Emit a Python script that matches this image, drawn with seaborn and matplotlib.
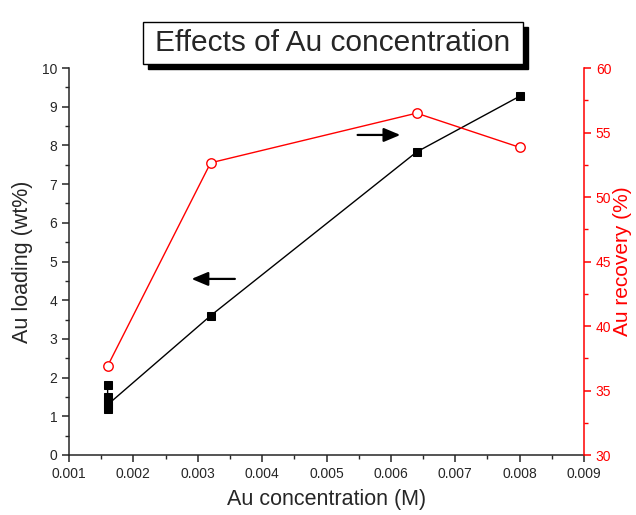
import matplotlib
matplotlib.use("Agg")
import matplotlib.pyplot as plt
import seaborn as sns
import pandas as pd
from matplotlib.patches import Rectangle
from matplotlib.ticker import MultipleLocator

sns.set_style("ticks")
plt.rcParams['font.family'] = ['Liberation Sans', 'DejaVu Sans']

# Data
conc_loading = [0.0016, 0.0016, 0.0016, 0.0016, 0.0016, 0.0032, 0.0064, 0.0080]
loading = [1.8, 1.5, 1.4, 1.2, 1.3, 3.6, 7.83, 9.27]
conc_recovery = [0.0016, 0.0032, 0.0064, 0.0080]
recovery = [36.9, 52.65, 56.5, 53.85]

title = "Effects of Au concentration"
xlabel = "Au concentration (M)"
ylabel_left = "Au loading (wt%)"
ylabel_right = "Au recovery (%)"

df_l = pd.DataFrame({"x": conc_loading, "y": loading})
df_r = pd.DataFrame({"x": conc_recovery, "y": recovery})

fig = plt.figure(figsize=(6.36, 5.15), dpi=100)
ax = fig.add_axes([69/636, 1-455/515, (584-69)/636, (455-68)/515])
ax2 = ax.twinx()

sns.lineplot(data=df_l, x="x", y="y", ax=ax, estimator=None, sort=False,
             color="black", lw=1.0, marker="s", markersize=5.8,
             markerfacecolor="black", markeredgecolor="black")
sns.lineplot(data=df_r, x="x", y="y", ax=ax2, estimator=None, sort=False,
             color="red", lw=1.0, marker="o", markersize=6.8,
             markerfacecolor="white", markeredgecolor="red", markeredgewidth=1.0)

ax.set_xlim(0.001, 0.009)
ax.set_ylim(0, 10)
ax2.set_ylim(30, 60)
ax.xaxis.set_minor_locator(MultipleLocator(0.0005))
ax.yaxis.set_major_locator(MultipleLocator(1))
ax.yaxis.set_minor_locator(MultipleLocator(0.5))
ax2.yaxis.set_major_locator(MultipleLocator(5))
ax2.yaxis.set_minor_locator(MultipleLocator(2.5))
ax.set_xticks([0.001 * i for i in range(1, 10)])
ax.set_xticklabels(["0.001", "0.002", "0.003", "0.004", "0.005", "0.006", "0.007", "0.008", "0.009"])

for a in (ax, ax2):
    a.tick_params(which="major", direction="out", length=5, width=1.1, labelsize=10)
    a.tick_params(which="minor", direction="out", length=3, width=1.0)
ax2.tick_params(axis="y", which="both", colors="red", labelcolor="red")

ax.spines["top"].set_visible(False)
ax2.spines["top"].set_visible(False)
ax.spines["right"].set_visible(False)
ax2.spines["left"].set_visible(False)
ax2.spines["bottom"].set_visible(False)
ax2.spines["right"].set_color("red")
for s in ("left", "bottom"):
    ax.spines[s].set_linewidth(1.1)
ax2.spines["right"].set_linewidth(1.1)

ax.set_xlabel(xlabel, fontsize=15.5, labelpad=6)
ax.set_ylabel(ylabel_left, fontsize=15.5, labelpad=6)
ax2.set_ylabel(ylabel_right, fontsize=15, color="red", labelpad=1)

# arrows
ax.annotate("", xy=(0.00286, 4.55), xytext=(0.00362, 4.55),
            arrowprops=dict(arrowstyle="-|>,head_length=1.0,head_width=0.42", color="black", lw=1.6))
ax.annotate("", xy=(0.00619, 8.27), xytext=(0.00544, 8.27),
            arrowprops=dict(arrowstyle="-|>,head_length=1.0,head_width=0.42", color="black", lw=1.6))

# title box with shadow
W, H = 636, 515
x0, x1, y0, y1 = 143, 523, 22, 64
fig.patches.append(Rectangle(((x0+5)/W, 1-(y1+5)/H), (x1-x0)/W, (y1-y0)/H,
                             transform=fig.transFigure, facecolor="black", edgecolor="black", zorder=5))
fig.patches.append(Rectangle((x0/W, 1-y1/H), (x1-x0)/W, (y1-y0)/H,
                             transform=fig.transFigure, facecolor="white", edgecolor="black", lw=1.0, zorder=6))
fig.text((x0+x1)/2/W, 1-(y0+y1)/2/H, title, ha="center", va="center", fontsize=21.5, zorder=7)

fig.savefig("out.png", dpi=100)
